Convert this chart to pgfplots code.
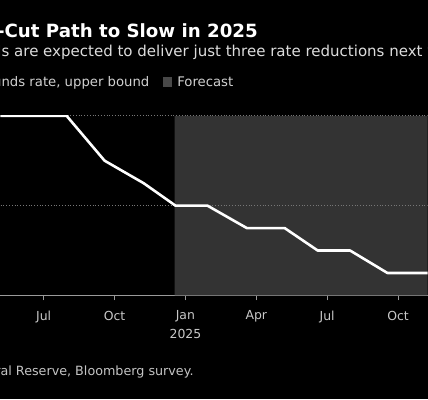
\documentclass[border=0pt]{standalone}
\usepackage{pgfplots}
\pgfplotsset{compat=1.18}
\usepackage{fontspec}
\setmainfont{DejaVu Sans}
\definecolor{shade}{HTML}{333333}
\definecolor{subt}{HTML}{DCDCDC}
\definecolor{legt}{HTML}{D0D0D0}
\definecolor{tickt}{HTML}{C8C8C8}
\definecolor{srct}{HTML}{C4C4C4}
\definecolor{axl}{HTML}{9A9A9A}
\definecolor{gridc}{HTML}{777777}
\definecolor{legsq}{HTML}{484848}
\begin{document}
\begin{tikzpicture}
\fill[black] (0bp,0bp) rectangle (428bp,400bp);
\begin{scope}
\clip (0bp,0bp) rectangle (428bp,400bp);
\node[anchor=base west, inner sep=0, text=white, font=\fontsize{18.3}{21}\selectfont\bfseries] at (4bp,362bp) {\llap{Fed's Rate-}Cut Path to Slow in 2025};
\node[anchor=base west, inner sep=0, text=subt, font=\fontsize{15.1}{18}\selectfont] at (1bp,343bp) {\llap{Official}s are expected to deliver just three rate reductions next year};
\node[anchor=base west, inner sep=0, text=legt, font=\fontsize{13.3}{16}\selectfont] at (1bp,313bp) {\llap{Fed fu}nds rate, upper bound};
\node[anchor=base west, inner sep=0, text=srct, font=\fontsize{12.8}{16}\selectfont] at (0bp,24bp) {\llap{Source: Feder}al Reserve, Bloomberg survey.};
\end{scope}
\fill[legsq] (163bp,313bp) rectangle (172bp,323bp);
\node[anchor=base west, inner sep=0, text=legt, font=\fontsize{13.3}{16}\selectfont] at (177bp,313bp) {Forecast};
\begin{axis}[
  at={(0bp,104bp)}, anchor=south west,
  scale only axis, width=428bp, height=180bp,
  xmin=4.17, xmax=22.25, ymin=3.5, ymax=5.5,
  axis x line=bottom, axis y line=none,
  axis line style={axl, line width=0.8bp, -},
  xtick={6,9,12,15,18,21},
  xticklabels={Jul,Oct,Jan\\2025,Apr,Jul,Oct},
  xticklabel style={align=center, text=tickt, font=\fontsize{12.5}{19}\selectfont, yshift=-7bp},
  tick align=outside, xtick pos=bottom,
  major tick length=5bp,
  tick style={axl, line width=0.8bp},
  ytick=\empty,
  /pgf/number format/assume math mode=true,
]
\addplot[fill=shade, draw=none] coordinates {(11.54,3.5) (11.54,5.5) (22.5,5.5) (22.5,3.5) (11.54,3.5)};
\addplot[gridc, dotted, line width=0.8bp] coordinates {(3,4.5) (23,4.5)};
\addplot[gridc, dotted, line width=0.8bp] coordinates {(3,5.5) (23,5.5)};
\addplot[white, line width=2.6bp, line join=round] coordinates {
(3,5.5) (6.97,5.5) (8.58,5.0) (10.23,4.75) (11.58,4.5) (12.93,4.5) (14.6,4.25) (16.2,4.25) (17.6,4.0) (18.97,4.0) (20.55,3.75) (23,3.75)};
\end{axis}
\end{tikzpicture}
\end{document}
